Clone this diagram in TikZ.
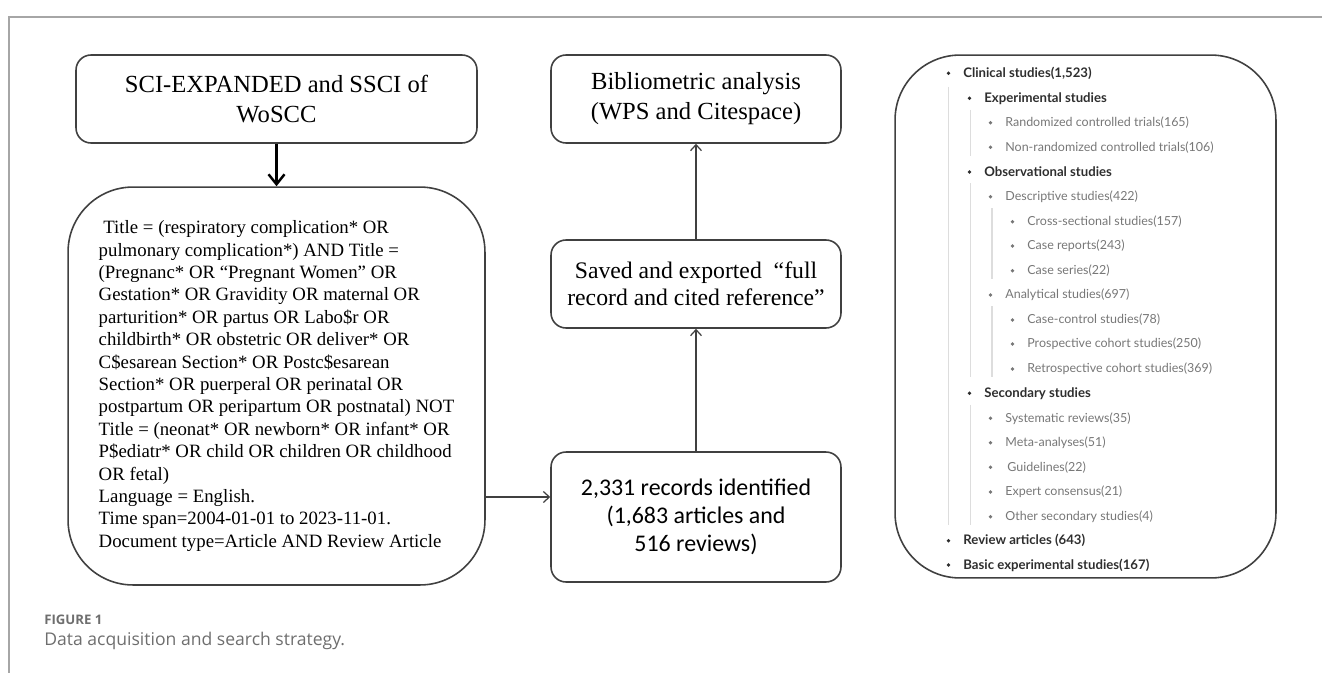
\documentclass[tikz,border=0pt]{standalone}
\usepackage{fontspec}
\setmainfont{Liberation Serif}
\newfontfamily\calfont{Carlito}
\newfontfamily\listfont{Lato}
\newfontfamily\capfont{Open Sans}
\usetikzlibrary{positioning, arrows.meta}

\definecolor{boxline}{HTML}{404040}
\definecolor{inkdark}{HTML}{2E2E2E}
\definecolor{inkgray}{HTML}{777777}
\definecolor{guidegray}{HTML}{DDDDDD}
\definecolor{framegray}{HTML}{A6A6A6}
\definecolor{capgray}{HTML}{6E6E6E}

\begin{document}
\begin{tikzpicture}[
    % GLOBAL CFG (one unit = one pixel of the figure)
    x=0.02cm, y=-0.02cm,
    % Styles
    box/.style={% For the flow boxes
        rectangle,
        rounded corners=0.3cm,
        draw=boxline,
        line width=0.9pt,
        inner sep=2pt,
        align=center,
    },
    bigbox/.style={% For the query box and the list box
        box,
        rounded corners=1.3cm,
    },
    flow/.style={% Thin arrows
        -{Straight Barb[length=0.12cm, width=0.22cm]},
        draw=boxline,
        line width=0.7pt,
    },
    mainflow/.style={% Thick arrow
        -{Straight Barb[length=0.2cm, width=0.32cm]},
        line width=1.4pt,
    },
    dot/.style={% Bullets of the list
        circle,
        fill=#1,
        inner sep=0pt,
        minimum size=0.075cm,
        label distance=0.245cm,
    },
    entry/.style={
        anchor=west,
        inner sep=0pt,
        minimum height=0.32cm,
    },
    item/.style={% Plain list entries
        entry,
        font=\listfont\fontsize{7.1}{9}\selectfont,
        text=inkgray,
        label={[dot=inkgray]left:{}},
    },
    head/.style={% Bold list entries
        entry,
        font=\listfont\bfseries\fontsize{7.5}{9}\selectfont,
        text=inkdark,
        label={[dot=inkdark]left:{}},
    },
    guide/.style={% Tree lines of the list
        draw=guidegray,
        line width=0.6pt,
    },
    ]

    \useasboundingbox (0,0) rectangle (1322,673);

    % Frame
    \draw [draw=framegray, line width=0.7pt] (1322,17) -- (9,17) -- (9,673);

    % Left column
    \node [box, minimum width=8.02cm, minimum height=1.76cm,
        font=\fontsize{14}{17}\selectfont] (sci) at (276.5,99)
        {SCI-EXPANDED and SSCI of\\WoSCC};
    \node [bigbox, minimum width=8.34cm, minimum height=7.96cm, align=left,
        font=\fontsize{10.7}{12.75}\selectfont] (query) at (276.5,386)
        {\ Title = (respiratory complication* OR\\
        pulmonary complication*) AND Title =\\
        (Pregnanc* OR “Pregnant Women” OR\\
        Gestation* OR Gravidity OR maternal OR\\
        parturition* OR partus OR Labo\$r OR\\
        childbirth* OR obstetric OR deliver* OR\\
        C\$esarean Section* OR Postc\$esarean\\
        Section* OR puerperal OR perinatal OR\\
        postpartum OR peripartum OR postnatal) NOT\\
        Title = (neonat* OR newborn* OR infant* OR\\
        P\$ediatr* OR child OR children OR childhood\\
        OR fetal)\\
        Language = English.\\
        Time span=2004-01-01 to 2023-11-01.\\
        Document type=Article AND Review Article};

    % Middle column
    \node [box, minimum width=5.8cm, minimum height=1.76cm,
        font=\fontsize{14}{17}\selectfont] (biblio) at (696,99)
        {Bibliometric analysis\\(WPS and Citespace)};
    \node [box, minimum width=5.8cm, minimum height=1.76cm,
        font=\fontsize{13.5}{15.5}\selectfont] (saved) at (696,284)
        {Saved and exported\ \ “full\\record and cited reference”};
    \node [box, minimum width=5.8cm, minimum height=2.6cm,
        font=\calfont\fontsize{13.6}{16}\selectfont] (rec) at (696,517)
        {2,331 records identified\\(1,683 articles and\\516 reviews)};

    % Right column
    \node [bigbox, minimum width=7.62cm, minimum height=10.46cm] (tree) at (1085.5,316.5) {};

    \node [head] (clin) at (963,73.3) {Clinical studies(1,523)};
    \node [head] (expe) at (984,98.3) {Experimental studies};
    \node [item] (rct) at (1005,122.7) {Randomized controlled trials(165)};
    \node [item] (nrct) at (1005,147.3) {Non-randomized controlled trials(106)};
    \node [head] (obs) at (984,172) {Observational studies};
    \node [item] (desc) at (1005,196.7) {Descriptive studies(422)};
    \node [item] (cross) at (1027,221.7) {Cross-sectional studies(157)};
    \node [item] (crep) at (1027,246) {Case reports(243)};
    \node [item] (cser) at (1027,270.7) {Case series(22)};
    \node [item] (anal) at (1005,295) {Analytical studies(697)};
    \node [item] (cctl) at (1027,320) {Case-control studies(78)};
    \node [item] (pros) at (1027,344) {Prospective cohort studies(250)};
    \node [item] (retr) at (1027,369) {Retrospective cohort studies(369)};
    \node [head] (sec) at (984,393.3) {Secondary studies};
    \node [item] (sysr) at (1005,418.3) {Systematic reviews(35)};
    \node [item] (meta) at (1005,442.7) {Meta-analyses(51)};
    \node [item] (guid) at (1005,467.3) {\,Guidelines(22)};
    \node [item] (expc) at (1005,492) {Expert consensus(21)};
    \node [item] (oth) at (1005,516.7) {Other secondary studies(4)};
    \node [head] (rev) at (963,540.7) {Review articles (643)};
    \node [head] (basic) at (963,565) {Basic experimental studies(167)};

    % Tree lines
    \draw [guide] ([xshift=-0.29cm, yshift=-0.1cm]clin.south west) -- ([xshift=-0.29cm]clin.south west |- oth.south);
    \draw [guide] ([xshift=-0.27cm, yshift=-0.06cm]expe.south west) -- ([xshift=-0.27cm]expe.south west |- nrct.south);
    \draw [guide] ([xshift=-0.27cm, yshift=-0.06cm]obs.south west) -- ([xshift=-0.27cm]obs.south west |- retr.south);
    \draw [guide] ([xshift=-0.27cm, yshift=-0.06cm]sec.south west) -- ([xshift=-0.27cm]sec.south west |- oth.south);
    \draw [guide] ([xshift=-0.26cm, yshift=-0.06cm]desc.south west) -- ([xshift=-0.26cm]desc.south west |- cser.south);
    \draw [guide] ([xshift=-0.26cm, yshift=-0.06cm]anal.south west) -- ([xshift=-0.26cm]anal.south west |- retr.south);

    % Arrows
    \draw [mainflow] (sci) -- (query);
    \draw [flow] ([yshift=0.4cm]rec.west -| query.east) -- ([yshift=0.4cm]rec.west);
    \draw [flow] (rec) -- (saved);
    \draw [flow] (saved) -- (biblio);

    % Caption
    \node [anchor=west, inner sep=0pt, text=capgray,
        font=\capfont\bfseries\fontsize{7.5}{9}\selectfont] (fig) at (44,620) {FIGURE 1};
    \node [anchor=west, inner sep=0pt, text=capgray,
        font=\capfont\fontsize{10}{12}\selectfont] (cap) at (44,641) {Data acquisition and search strategy.};

\end{tikzpicture}
\end{document}
